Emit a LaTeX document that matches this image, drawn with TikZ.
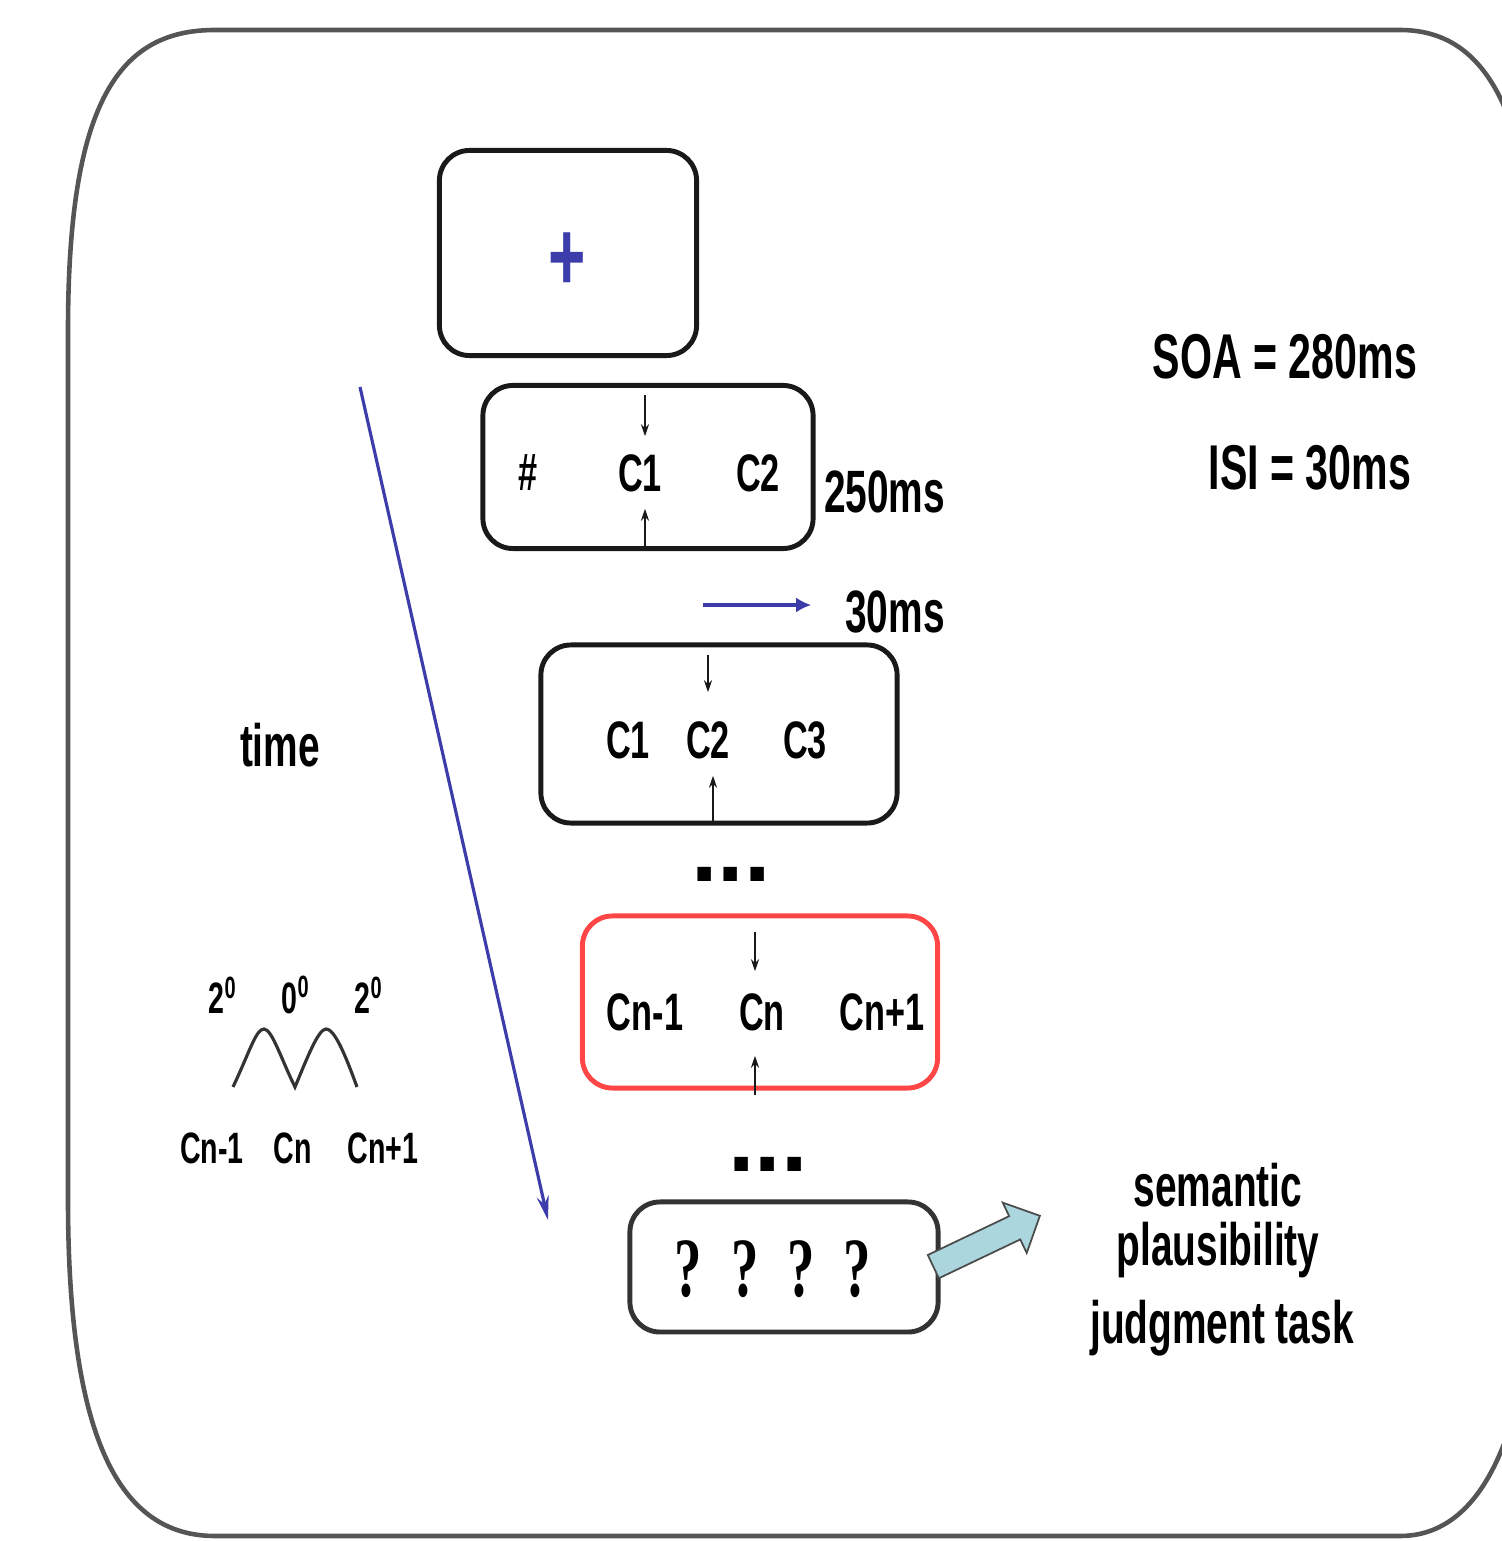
\documentclass[tikz,border=0pt]{standalone}
\usepackage{fontspec}
\setmainfont{Liberation Sans}[FakeStretch=0.65]
\newfontfamily\qfont{Liberation Serif}[FakeStretch=0.65]
\newfontfamily\dotfont{Liberation Sans}
\usetikzlibrary{arrows.meta,shapes.arrows}
\definecolor{framegray}{RGB}{85,85,85}
\definecolor{timeblue}{RGB}{60,60,170}
\definecolor{targetred}{RGB}{255,70,70}
\definecolor{taskfill}{RGB}{172,214,222}
\tikzstyle{screen} = [rectangle, draw=black!90, line width=1.4pt,
    rounded corners=0.3cm, inner sep=0pt]
\tikzstyle{chr} = [inner sep=0pt, font=\fontsize{15}{18}\selectfont\bfseries]
\tikzstyle{big} = [inner sep=0pt, font=\fontsize{17}{20}\selectfont\bfseries]
\tikzstyle{huge} = [inner sep=0pt, font=\fontsize{18}{21}\selectfont\bfseries]
\tikzstyle{tiny} = [inner sep=0pt, font=\fontsize{12.5}{15}\selectfont\bfseries]
\tikzstyle{dotrow} = [inner sep=0pt, font=\dotfont\fontsize{27}{30}\selectfont\bfseries]
\tikzstyle{pointer} = [-{Stealth[length=0.12cm,width=0.08cm]}, line width=0.7pt, black!90]

\begin{document}
\begin{tikzpicture}[x=0.01cm,y=0.01cm,semithick]
  \useasboundingbox (0,0) rectangle (1502,1541);
  \clip (0,0) rectangle (1502,1541);

  % outer frame
  \draw[framegray, line width=1.3pt]
    (68,1211) .. controls (68,1441) and (120,1511) .. (215,1511)
    -- (1400,1511) .. controls (1480,1511) and (1535,1441) .. (1540,1211)
    -- (1540,341) .. controls (1535,101) and (1480,5) .. (1400,5)
    -- (215,5) .. controls (120,5) and (68,101) .. (68,341) -- cycle;

  % screens
  \node[screen, minimum width=2.57cm, minimum height=2.05cm] (fix) at (568,1288) {};
  \node[text=timeblue, inner sep=0pt, font=\fontsize{28}{30}\selectfont\bfseries] (cross) at (567,1279) {+};

  \node[screen, minimum width=3.30cm, minimum height=1.63cm] (s1) at (648,1074) {};
  \node[chr] (hash) at (528,1068) {\#};
  \node[chr] (s1c1) at (640,1068) {C1};
  \node[chr] (s1c2) at (758,1068) {C2};
  \coordinate (f1) at (645,1146);
  \draw[pointer, shorten >=0.17cm] (f1) -- (f1 |- s1c1.north);
  \draw[pointer, shorten >=0.16cm] (s1.south -| f1) -- (f1 |- s1c1.south);
  \node[big, anchor=west] (t250) at (823,1049) {250ms};

  \coordinate (isi) at (703,936);
  \node[big] (t30) at (895,929) {30ms};
  \draw[-{Latex[length=0.15cm,width=0.15cm]}, timeblue, line width=1.3pt, shorten >=0.33cm]
    (isi) -- (isi -| t30.west);

  \node[screen, minimum width=3.56cm, minimum height=1.78cm] (s2) at (719,807) {};
  \node[chr] (s2c1) at (628,801) {C1};
  \node[chr] (s2c2) at (708,801) {C2};
  \node[chr] (s2c3) at (805,801) {C3};
  \coordinate (f2) at (708,886);
  \coordinate (g2) at (713,716);
  \draw[pointer, shorten >=0.28cm] (f2) -- (f2 |- s2c2.north);
  \draw[pointer, shorten >=0.16cm] (g2) -- (g2 |- s2c2.south);

  \node[dotrow] (dots1) at (731,667) {...};

  \node[screen, draw=targetred, minimum width=3.55cm, minimum height=1.72cm] (sn) at (760,539) {};
  \node[chr] (cprev) at (645,529) {Cn-1};
  \node[chr] (cn) at (762,529) {Cn};
  \node[chr] (cnext) at (882,529) {Cn+1};
  \coordinate (fn) at (755,609);
  \coordinate (gn) at (755,446);
  \draw[pointer, shorten >=0.21cm] (fn) -- (fn |- cn.north);
  \draw[pointer, shorten >=0.24cm] (gn) -- (gn |- cn.south);

  \node[dotrow] (dots2) at (768,377) {...};

  \node[screen, draw=black!80, minimum width=3.08cm, minimum height=1.30cm] (probe) at (784,274) {};
  \node[inner sep=0pt, font=\qfont\fontsize{24}{28}\selectfont\bfseries] (qmarks) at (773,272)
    {?\hspace{0.29cm}?\hspace{0.29cm}?\hspace{0.29cm}?};
  \node[single arrow, draw=black!70, line width=0.5pt, fill=taskfill, inner sep=0.12cm,
        single arrow head extend=0.15cm, minimum height=1.18cm,
        rotate=25.5, anchor=tail] (go) at ([xshift=-0.08cm]probe.east) {};

  % task description
  \node[big] (task1) at (1218,356) {semantic};
  \node[big] (task2) at (1218,291) {plausibility};
  \node[big] (task3) at (1222,213) {judgment task};

  \node[huge] (soa) at (1285,1184) {SOA = 280ms};
  \node[huge] (isitext) at (1310,1073) {ISI = 30ms};

  % time axis
  \node[big] (time) at (280,796) {time};
  \coordinate (t0) at (360,1154);
  \coordinate (t1) at (548,321);
  \draw[-{Stealth[length=0.24cm,width=0.12cm]}, timeblue, line width=0.9pt] (t0) -- (t1);

  % eccentricity sketch
  \node[tiny] (e1) at (223,546) {2\textsuperscript{0}};
  \node[tiny] (e2) at (296,546) {0\textsuperscript{0}};
  \node[tiny] (e3) at (369,546) {2\textsuperscript{0}};
  \draw[black!80, line width=0.9pt]
    (233,454) .. controls (250,490) and (256,512) .. (264,512)
    .. controls (272,512) and (282,480) .. (295,454)
    .. controls (306,480) and (318,512) .. (326,512)
    .. controls (334,512) and (344,490) .. (357,454);
  \node[tiny] (w1) at (212,393) {Cn-1};
  \node[tiny] (w2) at (293,393) {Cn};
  \node[tiny] (w3) at (383,393) {Cn+1};
\end{tikzpicture}
\end{document}
